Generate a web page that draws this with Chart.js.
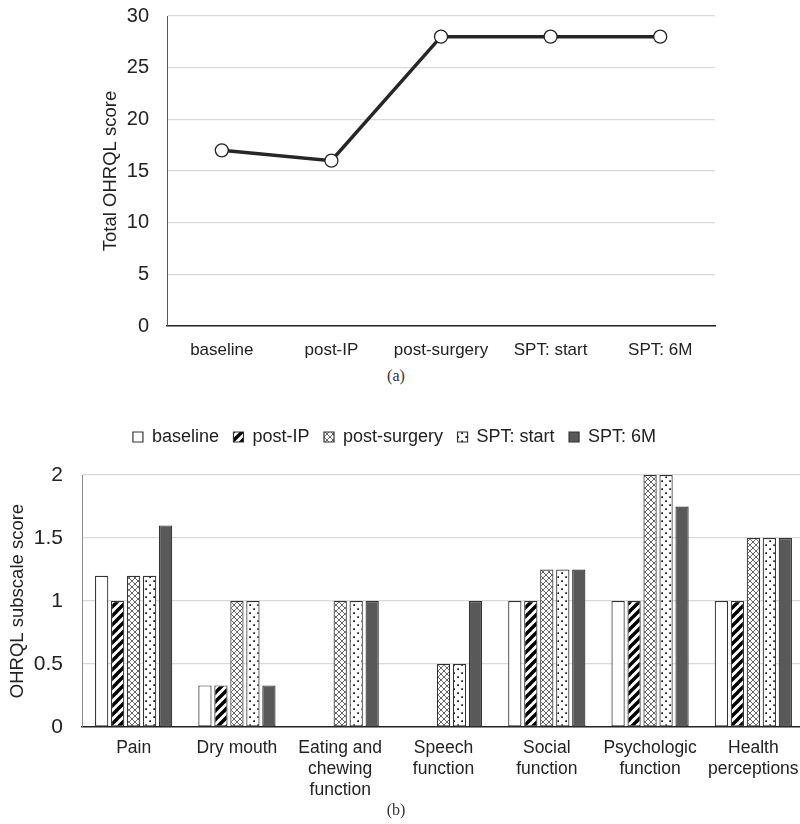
<!DOCTYPE html>
<html><head><meta charset="utf-8">
<script src="https://cdn.jsdelivr.net/npm/chart.js@4.4.1/dist/chart.umd.min.js"></script>
<style>
html,body{margin:0;padding:0;background:#fff;width:800px;height:824px;overflow:hidden;position:relative;}
#wa{position:absolute;left:0;top:0;width:800px;height:366px;}
#wb{position:absolute;left:0;top:395px;width:815px;height:425px;}
.cap{position:absolute;left:-4px;width:800px;text-align:center;font-family:"Liberation Serif","DejaVu Serif",serif;font-size:16px;color:#333;}
</style></head><body>
<div id="wa"><canvas id="ca" width="800" height="366"></canvas></div>
<div id="wb"><canvas id="cb" width="815" height="425"></canvas></div>
<div class="cap" style="top:367px;">(a)</div>
<div class="cap" style="top:801px;">(b)</div>
<script>
const timepoints = ['baseline', 'post-IP', 'post-surgery', 'SPT: start', 'SPT: 6M'];
const totalScore = [17, 16, 28, 28, 28];

const domains = [['Pain'], ['Dry mouth'], ['Eating and', 'chewing', 'function'], ['Speech', 'function'], ['Social', 'function'], ['Psychologic', 'function'], ['Health', 'perceptions']];
const baseline    = [1.2, 0.33, 0, 0, 1, 1, 1];
const postIP      = [1.0, 0.33, 0, 0, 1, 1, 1];
const postSurgery = [1.2, 1, 1, 0.5, 1.25, 2, 1.5];
const sptStart    = [1.2, 1, 1, 0.5, 1.25, 2, 1.5];
const spt6M       = [1.6, 0.33, 1, 1, 1.25, 1.75, 1.5];

const FONT = '"Liberation Sans", Arial, sans-serif';
const TXT = '#222';

function makePattern(w, h, draw) {
  const c = document.createElement('canvas');
  c.width = w; c.height = h;
  const g = c.getContext('2d');
  g.fillStyle = '#fff'; g.fillRect(0, 0, w, h);
  draw(g, w, h);
  return g.createPattern(c, 'repeat');
}
const stripes = makePattern(9, 9, (g, w, h) => {
  g.strokeStyle = '#000'; g.lineWidth = 3.4; g.lineCap = 'square';
  for (let k = -1; k <= 1; k++) { g.beginPath(); g.moveTo(k * w, h); g.lineTo(k * w + w, 0); g.stroke(); }
});
const cross = makePattern(6, 6, (g, w, h) => {
  g.strokeStyle = '#555'; g.lineWidth = 0.9;
  g.beginPath(); g.moveTo(0, 0); g.lineTo(w, h); g.moveTo(w, 0); g.lineTo(0, h); g.stroke();
});
const dots = makePattern(8, 8, (g) => {
  g.fillStyle = '#111';
  g.fillRect(1.3, 1.3, 1.7, 1.7);
  g.fillRect(5.3, 5.3, 1.7, 1.7);
});

// Chart (a)
new Chart(document.getElementById('ca'), {
  type: 'line',
  data: {
    labels: timepoints,
    datasets: [{
      data: totalScore,
      borderColor: '#262626', borderWidth: 3.5,
      pointRadius: 6.5, pointBackgroundColor: '#fff', pointBorderColor: '#262626', pointBorderWidth: 1.3,
      tension: 0
    }]
  },
  options: {
    responsive: false, animation: false,
    layout: { padding: { left: 0, right: 85, top: 16, bottom: 0 } },
    plugins: { legend: { display: false }, tooltip: { enabled: false } },
    scales: {
      x: {
        offset: true,
        grid: { display: false, drawTicks: false },
        border: { color: '#262626', width: 1.5 },
        ticks: { color: TXT, font: { family: FONT, size: 17 }, padding: 14, maxRotation: 0 },
        afterFit: s => { s.height = 40; s.paddingLeft = 0; s.paddingRight = 0; }
      },
      y: {
        min: 0, max: 30,
        grid: { color: '#d9d9d9', lineWidth: 1.3, drawTicks: false },
        border: { color: '#595959', width: 1 },
        ticks: { stepSize: 5, color: TXT, font: { family: FONT, size: 20 }, padding: 18 },
        title: { display: true, text: 'Total OHRQL score', color: TXT, font: { family: FONT, size: 18.5 }, padding: { top: 100, bottom: 0 } },
        afterFit: s => { s.width = 167; s.paddingTop = 0; s.paddingBottom = 0; }
      }
    }
  }
});

// Chart (b)
const legendGap = {
  id: 'legendGap',
  afterInit(chart) {
    const lg = chart.legend;
    if (!lg) return;
    const f = lg.fit;
    lg.fit = function () { f.call(this); this.height += 19; };
  }
};
const ds = (label, data, bg, border) => ({ label, data, backgroundColor: bg, borderColor: border, borderWidth: 1.2, borderSkipped: false, categoryPercentage: 0.774, barPercentage: 0.83 });
new Chart(document.getElementById('cb'), {
  type: 'bar',
  plugins: [legendGap],
  data: {
    labels: domains,
    datasets: [
      ds('baseline', baseline, '#fff', '#333'),
      ds('post-IP', postIP, stripes, '#333'),
      ds('post-surgery', postSurgery, cross, '#333'),
      ds('SPT: start', sptStart, dots, '#333'),
      ds('SPT: 6M', spt6M, '#595959', '#333')
    ]
  },
  options: {
    responsive: false, animation: false,
    layout: { padding: { left: -16, right: 10, top: 18.5, bottom: 0 } },
    plugins: {
      tooltip: { enabled: false },
      legend: {
        position: 'top',
        labels: { color: TXT, font: { family: FONT, size: 18 }, boxWidth: 10, boxHeight: 10, padding: 14.5 }
      }
    },
    scales: {
      x: {
        grid: { display: false, drawTicks: false },
        border: { color: '#262626', width: 1.5 },
        ticks: { color: TXT, font: { family: FONT, size: 17.5, lineHeight: 1.2 }, padding: 11, maxRotation: 0, autoSkip: false },
        afterFit: s => { s.height = 93; }
      },
      y: {
        min: 0, max: 2,
        grid: { color: '#d9d9d9', lineWidth: 1.3, drawTicks: false },
        border: { color: '#8c8c8c', width: 1 },
        ticks: { stepSize: 0.5, color: TXT, font: { family: FONT, size: 21 }, padding: 19, callback: v => String(v) },
        title: { display: true, text: 'OHRQL subscale score', color: TXT, font: { family: FONT, size: 18.5 }, padding: { top: 23, bottom: 0 } },
        afterFit: s => { s.width = 98; }
      }
    }
  }
});
</script>
</body></html>
